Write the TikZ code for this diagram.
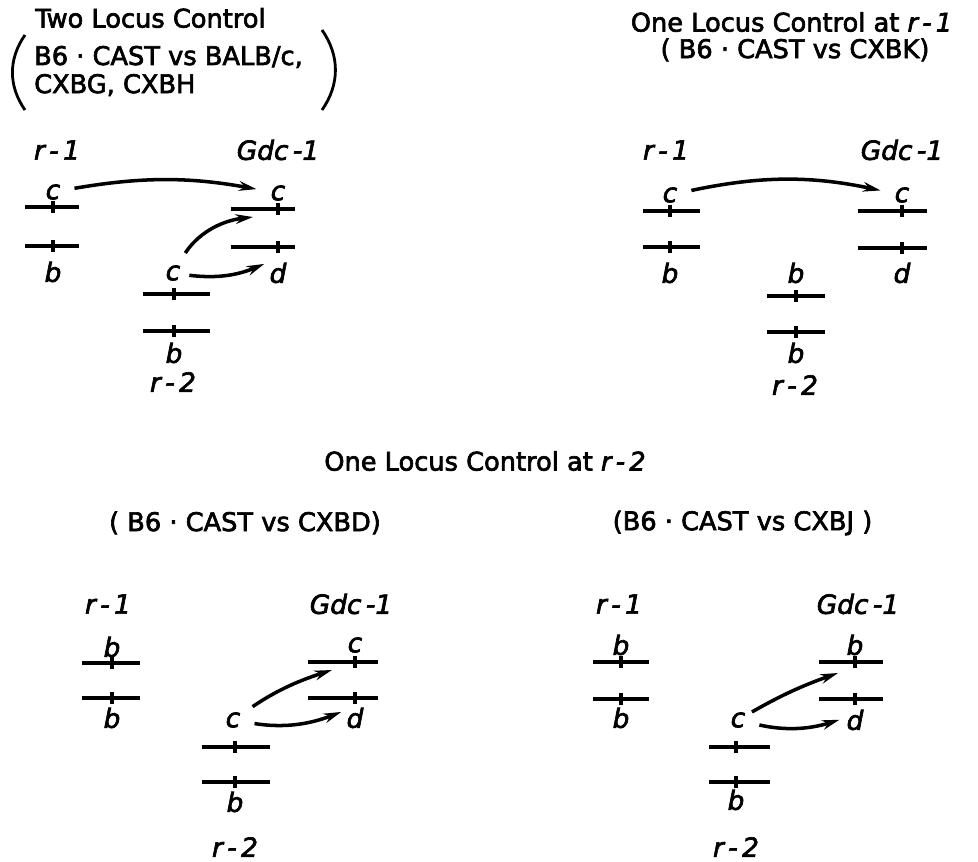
\documentclass[tikz,border=0pt]{standalone}
\usepackage{fontspec}
\setmainfont{DejaVu Sans}[FakeBold=2.5]
\usetikzlibrary{arrows.meta}
\tikzset{
  ttl/.style={font=\fontsize{14.6}{16}\selectfont},
  loc/.style={font=\fontsize{15}{17}\selectfont\itshape},
  allele/.style={font=\fontsize{15}{17}\selectfont\itshape,inner sep=1pt},
  chr/.style={line width=2.2pt},
  par/.style={line width=1.6pt},
  arr/.style={line width=2pt,-{Stealth[length=10pt,width=5.5pt]},shorten <=7pt,shorten >=7pt},
}
\begin{document}
\begin{tikzpicture}
\useasboundingbox (0,0) rectangle (19.56,17.22);
\node[ttl,anchor=west] (tl-t) at (0.58,16.86) {Two Locus Control};
\node[ttl,anchor=west,align=left] (tl-s) at (0.56,15.8) {B6 · CAST vs BALB/c,\\CXBG, CXBH};
\draw[par] (0.5,16.52) to[bend right=35] (0.5,15.02);
\draw[par] (6.44,16.62) to[bend left=35] (6.44,15.02);
\node[ttl] (tr-t) at (15.83,16.78) {One Locus Control at \textit{r\,-\,1}};
\node[ttl] (tr-s) at (15.9,16.22) {( B6 · CAST vs CXBK)};
\node[ttl] (mid-t) at (9.7,8.0) {One Locus Control at \textit{r\,-\,2}};
\node[ttl] (bl-s) at (4.9,6.76) {( B6 · CAST vs CXBD)};
\node[ttl] (br-s) at (14.85,6.76) {(B6 · CAST vs CXBJ )};

\node[loc] (tl-r1) at (1.14,14.22) {r\,-\,1};
\node[loc] (tl-g) at (5.56,14.22) {Gdc\,-1};
\node[loc] (tl-r2) at (3.46,9.58) {r\,-\,2};
\draw[chr] (0.5,13.08) -- (1.58,13.08) (1.06,12.96) -- (1.06,13.2) (0.5,12.3) -- (1.58,12.3) (1.06,12.18) -- (1.06,12.42);
\draw[chr] (4.62,13.04) -- (5.9,13.04) (5.56,12.92) -- (5.56,13.16) (4.62,12.28) -- (5.9,12.28) (5.56,12.16) -- (5.56,12.4);
\draw[chr] (2.86,11.34) -- (4.2,11.34) (3.48,11.22) -- (3.48,11.46) (2.86,10.6) -- (4.2,10.6) (3.48,10.48) -- (3.48,10.72);
\node[allele] (tl-r1c) at (1.06,13.38) {c};
\node[allele] (tl-r1b) at (1.06,11.78) {b};
\node[allele] (tl-gc) at (5.56,13.36) {c};
\node[allele] (tl-gd) at (5.56,11.76) {d};
\node[allele] (tl-r2c) at (3.46,11.76) {c};
\node[allele] (tl-r2b) at (3.48,10.16) {b};
\coordinate (tl-t2) at (5.06,12.88);
\draw[arr] (tl-r1c) to[bend left=10] (tl-gc);
\draw[arr,shorten >=0pt] (tl-r2c) to[bend left=25] (tl-t2);
\draw[arr,shorten <=4pt,shorten >=2pt] (tl-r2c) to[bend right=15] (tl-gd.135);

\node[loc] (tr-r1) at (13.32,14.22) {r\,-\,1};
\node[loc] (tr-g) at (18.04,14.22) {Gdc\,-1};
\node[loc] (tr-r2) at (15.9,9.52) {r\,-\,2};
\draw[chr] (12.86,13.0) -- (14.0,13.0) (13.4,12.88) -- (13.4,13.12) (12.86,12.28) -- (14.0,12.28) (13.4,12.16) -- (13.4,12.4);
\draw[chr] (17.16,13.0) -- (18.54,13.0) (18.04,12.88) -- (18.04,13.12) (17.16,12.26) -- (18.54,12.26) (18.04,12.14) -- (18.04,12.38);
\draw[chr] (15.34,11.3) -- (16.5,11.3) (15.92,11.18) -- (15.92,11.42) (15.34,10.58) -- (16.5,10.58) (15.92,10.46) -- (15.92,10.7);
\node[allele] (tr-r1c) at (13.4,13.32) {c};
\node[allele] (tr-r1b) at (13.4,11.76) {b};
\node[allele] (tr-gc) at (18.04,13.32) {c};
\node[allele] (tr-gd) at (18.04,11.76) {d};
\node[allele] (tr-r2b1) at (15.92,11.76) {b};
\node[allele] (tr-r2b2) at (15.92,10.16) {b};
\draw[arr] (tr-r1c) to[bend left=12] (tr-gc);

\node[loc] (bl-r1) at (2.16,5.14) {r\,-\,1};
\node[loc] (bl-g) at (7.02,5.14) {Gdc\,-1};
\node[loc] (bl-r2) at (4.7,0.28) {r\,-\,2};
\draw[chr] (1.64,3.96) -- (2.8,3.96) (2.24,3.84) -- (2.24,4.08) (1.64,3.26) -- (2.8,3.26) (2.24,3.14) -- (2.24,3.38);
\draw[chr] (6.16,3.98) -- (7.56,3.98) (7.1,3.86) -- (7.1,4.1) (6.16,3.26) -- (7.56,3.26) (7.1,3.14) -- (7.1,3.38);
\draw[chr] (4.04,2.28) -- (5.4,2.28) (4.7,2.16) -- (4.7,2.4) (4.04,1.58) -- (5.4,1.58) (4.7,1.46) -- (4.7,1.7);
\node[allele] (bl-r1b1) at (2.24,4.28) {b};
\node[allele] (bl-r1b2) at (2.24,2.86) {b};
\node[allele] (bl-gc) at (7.1,4.32) {c};
\node[allele] (bl-gd) at (7.1,2.86) {d};
\node[allele] (bl-r2c) at (4.66,2.82) {c};
\node[allele] (bl-r2b) at (4.7,1.18) {b};
\coordinate (bl-t1) at (6.64,3.82);
\draw[arr,shorten >=0pt] (bl-r2c) to[bend left=8] (bl-t1);
\draw[arr,shorten >=2pt] (bl-r2c) to[bend right=15] (bl-gd.145);

\node[loc] (br-r1) at (12.38,5.14) {r\,-\,1};
\node[loc] (br-g) at (17.16,5.14) {Gdc\,-1};
\node[loc] (br-r2) at (14.72,0.28) {r\,-\,2};
\draw[chr] (11.86,3.98) -- (12.98,3.98) (12.42,3.86) -- (12.42,4.1) (11.86,3.24) -- (12.98,3.24) (12.42,3.12) -- (12.42,3.36);
\draw[chr] (16.38,3.98) -- (17.66,3.98) (17.1,3.86) -- (17.1,4.1) (16.38,3.24) -- (17.66,3.24) (17.1,3.12) -- (17.1,3.36);
\draw[chr] (14.18,2.28) -- (15.4,2.28) (14.72,2.16) -- (14.72,2.4) (14.18,1.58) -- (15.4,1.58) (14.72,1.46) -- (14.72,1.7);
\node[allele] (br-r1b1) at (12.42,4.32) {b};
\node[allele] (br-r1b2) at (12.42,2.86) {b};
\node[allele] (br-gb) at (17.1,4.32) {b};
\node[allele] (br-gd) at (17.1,2.82) {d};
\node[allele] (br-r2c) at (14.76,2.82) {c};
\node[allele] (br-r2b) at (14.72,1.22) {b};
\coordinate (br-t1) at (16.76,3.76);
\draw[arr,shorten <=3pt,shorten >=0pt] (br-r2c) to[bend left=5] (br-t1);
\draw[arr,shorten >=3pt] (br-r2c) to[bend right=15] (br-gd.170);
\end{tikzpicture}
\end{document}
